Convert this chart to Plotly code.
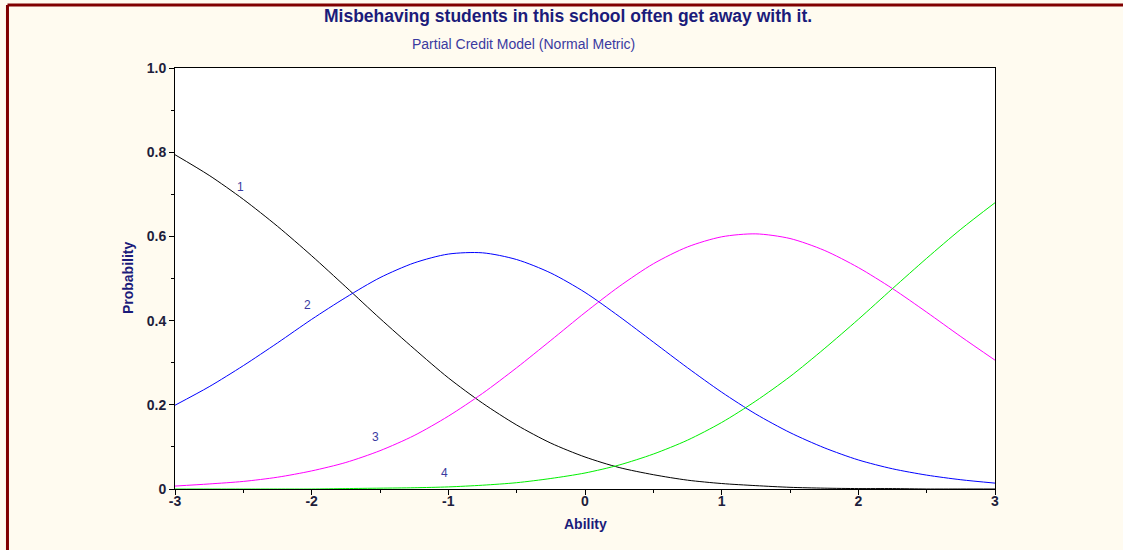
import plotly.graph_objects as go

# Category response curves, sampled every 0.25 on the ability scale
ability = [-3.0, -2.75, -2.5, -2.25, -2.0, -1.75, -1.5, -1.25, -1.0, -0.75, -0.5, -0.25,
           0.0, 0.25, 0.5, 0.75, 1.0, 1.25, 1.5, 1.75, 2.0, 2.25, 2.5, 2.75, 3.0]

cat1 = [0.794, 0.745, 0.688, 0.624, 0.554, 0.480, 0.405, 0.333, 0.264, 0.204, 0.152, 0.109,
        0.076, 0.051, 0.034, 0.021, 0.013, 0.008, 0.004, 0.002, 0.001, 0.001, 0.000, 0.000, 0.000]
cat2 = [0.199, 0.243, 0.293, 0.347, 0.403, 0.455, 0.502, 0.537, 0.558, 0.561, 0.545, 0.513,
        0.467, 0.410, 0.349, 0.288, 0.230, 0.178, 0.134, 0.098, 0.069, 0.048, 0.033, 0.022, 0.014]
cat3 = [0.007, 0.012, 0.018, 0.028, 0.043, 0.063, 0.091, 0.127, 0.173, 0.227, 0.288, 0.353,
        0.419, 0.481, 0.535, 0.575, 0.599, 0.606, 0.595, 0.567, 0.526, 0.476, 0.420, 0.362, 0.306]
cat4 = [0.000, 0.000, 0.000, 0.000, 0.000, 0.001, 0.002, 0.003, 0.005, 0.009, 0.015, 0.025,
        0.038, 0.057, 0.083, 0.116, 0.158, 0.209, 0.267, 0.333, 0.403, 0.476, 0.548, 0.617, 0.680]

series = [("1", cat1, "#000000"), ("2", cat2, "#0000FF"),
          ("3", cat3, "#FF00FF"), ("4", cat4, "#00F000")]

# Curve label anchors (ability, probability)
label_pos = {"1": (-2.52, 0.717), "2": (-2.03, 0.437), "3": (-1.53, 0.124), "4": (-1.03, 0.038)}

title_text = "Misbehaving students in this school often get away with it."
subtitle_text = "Partial Credit Model (Normal Metric)"

x_ticks = [-3, -2, -1, 0, 1, 2, 3]
x_ticktext = ["-3", "-2", "-1", "0", "1", "2", "3"]
y_ticks = [0, 0.2, 0.4, 0.6, 0.8, 1.0]
y_ticktext = ["0", "0.2", "0.4", "0.6", "0.8", "1.0"]

FONT = "Arial, Liberation Sans, sans-serif"
NAVY = "#1B1B7A"
LABEL = "#3A3AA0"

fig = go.Figure()
for name, vals, color in series:
    fig.add_trace(go.Scatter(x=ability, y=vals, mode="lines", name=name,
                             line=dict(color=color, width=1, shape="spline", smoothing=0.8),
                             showlegend=False, hoverinfo="skip"))

annotations = []
for name, (ax, ay) in label_pos.items():
    annotations.append(dict(x=ax, y=ay, xref="x", yref="y", text=name, showarrow=False,
                            font=dict(family=FONT, size=12, color=LABEL)))

annotations += [
    dict(x=0.479, y=1.1235, xref="paper", yref="paper", text=title_text, showarrow=False,
         xanchor="center", yanchor="middle",
         font=dict(family=FONT, size=17.5, color=NAVY, weight="bold")),
    dict(x=0.4256, y=1.057, xref="paper", yref="paper", text=subtitle_text, showarrow=False,
         xanchor="center", yanchor="middle",
         font=dict(family=FONT, size=14, color=LABEL)),
    dict(x=0.5, y=-0.0831, xref="paper", yref="paper", text="Ability", showarrow=False,
         xanchor="center", yanchor="middle",
         font=dict(family=FONT, size=14, color=NAVY, weight="bold")),
    dict(x=-0.0573, y=0.501, xref="paper", yref="paper", text="Probability", showarrow=False,
         textangle=-90, xanchor="center", yanchor="middle",
         font=dict(family=FONT, size=14, color=NAVY, weight="bold")),
]

# Dark red frame along the top and left edges of the page
frame = dict(color="#800000", width=3)
shapes = [
    dict(type="line", xref="paper", yref="paper", x0=-0.2043, x1=1.18, y0=1.1496, y1=1.1496, line=frame),
    dict(type="line", xref="paper", yref="paper", x0=-0.2043, x1=-0.2043, y0=-0.15, y1=1.1496, line=frame),
]

axis_common = dict(showgrid=False, zeroline=False, showline=True, linecolor="#000000",
                   linewidth=1, mirror=True, ticks="outside", ticklen=5, tickcolor="#000000",
                   tickfont=dict(family=FONT, size=14, color="#1E1E3C", weight="bold"))

fig.update_layout(
    width=1123, height=550,
    margin=dict(l=175, r=128, t=68, b=61),
    paper_bgcolor="#FFFBF0", plot_bgcolor="#FFFFFF",
    annotations=annotations, shapes=shapes,
    xaxis=dict(range=[-3, 3], tickvals=x_ticks, ticktext=x_ticktext, ticklabelstandoff=-6,
               minor=dict(dtick=0.5, ticks="outside", ticklen=3, tickcolor="#000000"),
               **axis_common),
    yaxis=dict(range=[0, 1.0], tickvals=y_ticks, ticktext=y_ticktext,
               minor=dict(dtick=0.1, ticks="outside", ticklen=3, tickcolor="#000000"),
               **axis_common),
)

fig.write_html("out.html")
